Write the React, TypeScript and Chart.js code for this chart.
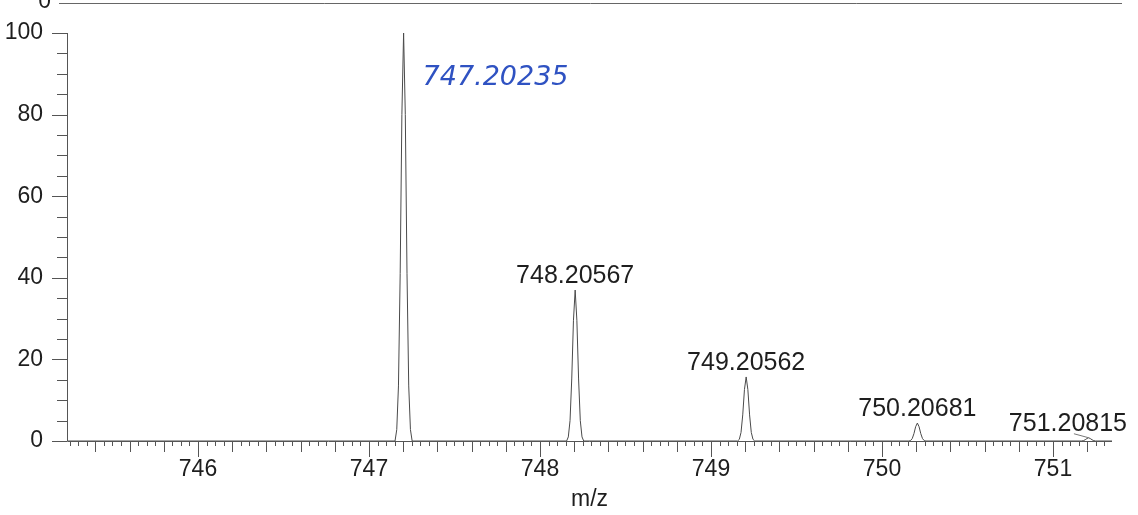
import React, { useEffect, useRef } from 'react';
import { Chart, registerables } from 'chart.js';

Chart.register(...registerables);

// ---- data ----
const xRange = [745.234, 751.345];
const yRange = [0, 100];
const peakMz = [747.20235, 748.20567, 749.20562, 750.20681, 751.20815];
const peakIntensity = [100, 37, 15.7, 4.4, 0.8];
const printedLabels = ['', '748.20567', '749.20562', '750.20681', '751.20815'];
const handNote = '747.20235';
const handNotePos = { x: 747.74, y: 89 };
const profileOffsets = [-0.05, -0.04, -0.03, -0.02, -0.01, 0, 0.01, 0.02, 0.03, 0.04, 0.05];
const profile747 = [0, 2.8, 13.5, 41, 80, 100, 80, 41, 13.5, 2.8, 0];
const profile748 = [0, 1.0, 5.0, 15.2, 29.6, 37, 29.6, 15.2, 5.0, 1.0, 0];
const profile749 = [0, 0.4, 2.1, 6.4, 12.6, 15.7, 12.6, 6.4, 2.1, 0.4, 0];
const profile750 = [0, 0.1, 0.6, 1.8, 3.5, 4.4, 3.5, 1.8, 0.6, 0.1, 0];
const profile751 = [0, 0, 0.1, 0.3, 0.6, 0.8, 0.6, 0.3, 0.1, 0, 0];
const profiles = [profile747, profile748, profile749, profile750, profile751];
const xTitle = 'm/z';

const FONT = "'Liberation Sans', Arial, sans-serif";
const INK = '#1e1e1e';
const LINE = '#555555';

export default function App() {
  const ref = useRef<HTMLCanvasElement | null>(null);

  useEffect(() => {
    document.body.style.margin = '0';
    const canvas = ref.current;
    if (!canvas) return;

    const points: { x: number; y: number }[] = [{ x: xRange[0], y: 0 }];
    peakMz.forEach((mz, i) => {
      profileOffsets.forEach((off, j) => points.push({ x: mz + off, y: profiles[i][j] }));
    });
    points.push({ x: xRange[1], y: 0 });

    const decor = {
      id: 'decor',
      afterDraw(chart: any) {
        const ctx = chart.ctx as CanvasRenderingContext2D;
        const xs = chart.scales.x;
        const ys = chart.scales.y;
        const a = chart.chartArea;
        ctx.save();
        ctx.strokeStyle = LINE;
        ctx.lineWidth = 1;
        // axes
        ctx.beginPath();
        ctx.moveTo(a.left + 0.5, a.top);
        ctx.lineTo(a.left + 0.5, a.bottom + 0.5);
        ctx.lineTo(a.right, a.bottom + 0.5);
        ctx.stroke();
        // x ticks
        ctx.beginPath();
        for (let k = Math.ceil(xs.min * 20); k <= Math.floor(xs.max * 20); k++) {
          const len = k % 20 === 0 ? 16 : k % 4 === 0 ? 11 : 5;
          const px = Math.round(xs.getPixelForValue(k / 20)) + 0.5;
          ctx.moveTo(px, a.bottom);
          ctx.lineTo(px, a.bottom + len);
        }
        // y ticks
        for (let v = yRange[0]; v <= yRange[1]; v += 5) {
          const len = v % 20 === 0 ? 15 : 10;
          const py = Math.round(ys.getPixelForValue(v)) + 0.5;
          ctx.moveTo(a.left - len, py);
          ctx.lineTo(a.left, py);
        }
        ctx.stroke();

        // peak labels
        ctx.font = `25px ${FONT}`;
        ctx.fillStyle = INK;
        ctx.textAlign = 'center';
        ctx.textBaseline = 'alphabetic';
        peakMz.forEach((mz, i) => {
          const t = printedLabels[i];
          if (!t) return;
          const px = xs.getPixelForValue(mz);
          const py = ys.getPixelForValue(peakIntensity[i]);
          const w = ctx.measureText(t).width;
          let cx = px;
          const maxRight = chart.width - 11;
          if (cx + w / 2 > maxRight) cx = maxRight - w / 2;
          const by = py - 7;
          ctx.fillText(t, cx, by);
          if (cx !== px) {
            ctx.beginPath();
            ctx.strokeStyle = '#777';
            ctx.moveTo(cx + 6, by + 3);
            ctx.lineTo(px, py);
            ctx.stroke();
          }
        });

        // handwritten note
        ctx.font = `italic 27px 'DejaVu Sans', ${FONT}`;
        ctx.fillStyle = '#2f52c2';
        ctx.textBaseline = 'middle';
        ctx.fillText(handNote, xs.getPixelForValue(handNotePos.x), ys.getPixelForValue(handNotePos.y));

        // cropped strip of the panel above
        ctx.strokeStyle = '#666';
        ctx.beginPath();
        ctx.moveTo(a.left - 8, 3.5);
        ctx.lineTo(a.right + 10, 3.5);
        ctx.stroke();
        ctx.font = `23px ${FONT}`;
        ctx.fillStyle = INK;
        ctx.textAlign = 'right';
        ctx.textBaseline = 'alphabetic';
        ctx.fillText('0', a.left - 16, 8);
        ctx.restore();
      },
    };

    const chart = new Chart(canvas, {
      type: 'line',
      data: {
        datasets: [
          {
            data: points,
            borderColor: '#4a4a4a',
            borderWidth: 1,
            pointRadius: 0,
            tension: 0,
            fill: false,
          },
        ],
      },
      options: {
        responsive: false,
        animation: false,
        parsing: false,
        layout: { padding: { top: 33, right: 26, left: 0, bottom: 0 } },
        plugins: { legend: { display: false }, tooltip: { enabled: false } },
        scales: {
          x: {
            type: 'linear',
            min: xRange[0],
            max: xRange[1],
            grid: { display: false },
            border: { display: false },
            ticks: {
              stepSize: 1,
              includeBounds: false,
              autoSkip: false,
              maxRotation: 0,
              padding: 7,
              color: INK,
              font: { family: FONT, size: 23 },
              callback: (v: any) => String(Math.round(Number(v))),
            },
            title: {
              display: true,
              text: xTitle,
              color: INK,
              font: { family: FONT, size: 23 },
              padding: { top: 0, bottom: 2 },
            },
            afterFit: (s: any) => {
              s.height = 74;
            },
          },
          y: {
            type: 'linear',
            min: yRange[0],
            max: yRange[1],
            grid: { display: false },
            border: { display: false },
            ticks: {
              stepSize: 20,
              padding: 16,
              color: INK,
              font: { family: FONT, size: 23 },
            },
            afterFit: (s: any) => {
              s.width = 67;
            },
          },
        },
      },
      plugins: [decor],
    } as any);

    return () => chart.destroy();
  }, []);

  return (
    <div style={{ width: 1138, height: 515, background: '#fff' }}>
      <canvas ref={ref} width={1138} height={515} style={{ display: 'block' }} />
    </div>
  );
}
